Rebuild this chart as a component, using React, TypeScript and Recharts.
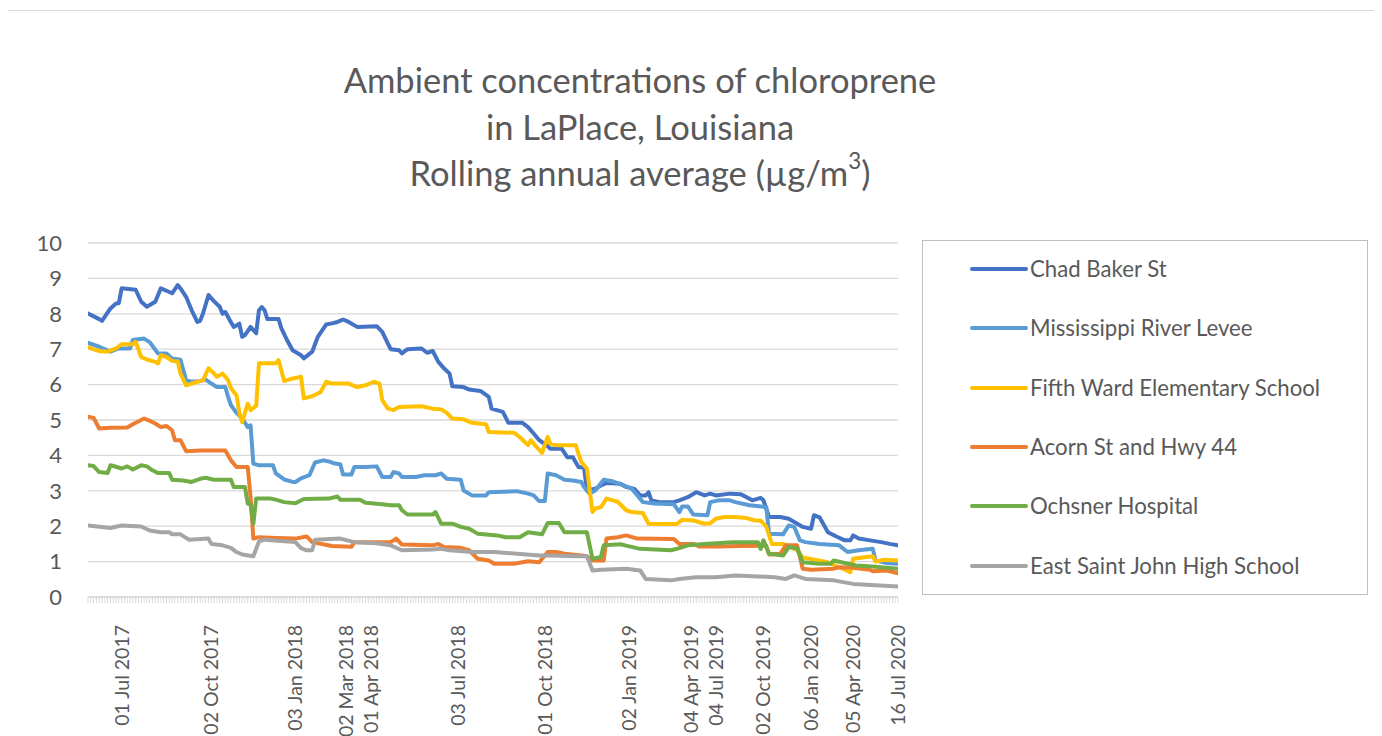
import React from 'react';
import { LineChart, Line, XAxis, YAxis, CartesianGrid, Legend } from 'recharts';

const FONT = 'Lato, "Open Sans", sans-serif';
const TEXT = '#595959';
const GRID = '#d9d9d9';

// category axis: sample number 0..289
const sampleCount = 290;

const tickLabels: [number, string][] = [
  [12, '01 Jul 2017'],
  [44, '02 Oct 2017'],
  [74, '03 Jan 2018'],
  [92, '02 Mar 2018'],
  [101, '01 Apr 2018'],
  [132, '03 Jul 2018'],
  [163, '01 Oct 2018'],
  [193, '02 Jan 2019'],
  [215, '04 Apr 2019'],
  [224, '04 Jul 2019'],
  [241, '02 Oct 2019'],
  [258, '06 Jan 2020'],
  [273, '05 Apr 2020'],
  [289, '16 Jul 2020'],
];

const yTicks = [0, 1, 2, 3, 4, 5, 6, 7, 8, 9, 10];

const seriesNames = [
  'Chad Baker St',
  'Mississippi River Levee',
  'Fifth Ward Elementary School',
  'Acorn St and Hwy 44',
  'Ochsner Hospital',
  'East Saint John High School',
];
const seriesColors = ['#4472C4', '#5B9BD5', '#FFC000', '#ED7D31', '#70AD47', '#A5A5A5'];

// [sample number, µg/m3]
const chadBaker: [number, number][] = [
  [0, 8.01], [4, 7.85], [5, 7.8], [8, 8.15], [10, 8.29], [11, 8.3], [12, 8.72], [17, 8.68], [19, 8.34], [21, 8.2],
  [24, 8.34], [26, 8.72], [28, 8.65], [30, 8.58], [32, 8.81], [33, 8.72], [35, 8.48], [37, 8.1], [39, 7.77], [40, 7.8],
  [41, 8.0], [43, 8.53], [45, 8.35], [47, 8.2], [48, 8.0], [49, 8.05], [51, 7.76], [52, 7.63], [54, 7.72], [55, 7.35],
  [56, 7.4], [58, 7.63], [60, 7.45], [61, 8.1], [62, 8.19], [63, 8.1], [64, 7.85], [68, 7.85], [69, 7.59], [71, 7.26],
  [73, 6.97], [76, 6.83], [77, 6.74], [80, 6.93], [82, 7.35], [85, 7.7], [87, 7.73], [89, 7.77], [91, 7.84], [93, 7.77],
  [96, 7.63], [103, 7.65], [105, 7.49], [107, 7.16], [108, 7.0], [111, 6.97], [112, 6.88], [114, 7.0], [119, 7.02], [121, 6.9],
  [123, 6.95], [125, 6.64], [127, 6.46], [129, 6.31], [130, 5.95], [134, 5.93], [136, 5.86], [140, 5.82], [143, 5.65], [144, 5.32],
  [148, 5.23], [150, 4.92], [155, 4.92], [157, 4.8], [159, 4.62], [161, 4.43], [164, 4.26], [165, 4.19], [169, 4.19], [171, 3.95],
  [173, 3.95], [175, 3.67], [177, 3.65], [178, 3.01], [181, 3.06], [183, 3.15], [185, 3.22], [190, 3.2], [192, 3.11], [195, 3.05],
  [197, 2.87], [199, 2.87], [200, 2.96], [201, 2.73], [204, 2.68], [209, 2.68], [211, 2.73], [214, 2.82], [217, 2.96], [220, 2.87],
  [222, 2.92], [224, 2.87], [229, 2.92], [233, 2.9], [235, 2.82], [237, 2.73], [240, 2.8], [241, 2.73], [243, 2.26], [247, 2.26],
  [250, 2.21], [252, 2.12], [255, 1.98], [258, 1.93], [259, 2.31], [261, 2.25], [264, 1.83], [267, 1.71], [270, 1.6], [272, 1.6],
  [273, 1.74], [275, 1.65], [279, 1.6], [283, 1.55], [286, 1.5], [289, 1.46],
];

const riverLevee: [number, number][] = [
  [0, 7.18], [4, 7.07], [8, 6.93], [11, 7.02], [15, 7.02], [16, 7.26], [20, 7.3], [22, 7.2], [25, 6.88], [28, 6.88],
  [30, 6.74], [33, 6.7], [35, 6.12], [37, 6.08], [40, 6.1], [42, 6.14], [44, 6.03], [46, 5.93], [49, 5.93], [50, 5.65],
  [51, 5.42], [53, 5.2], [55, 5.05], [57, 4.8], [58, 4.85], [59, 3.77], [61, 3.72], [66, 3.72], [67, 3.49], [70, 3.32],
  [73, 3.25], [74, 3.25], [76, 3.35], [79, 3.44], [81, 3.8], [84, 3.86], [86, 3.83], [88, 3.77], [90, 3.75], [91, 3.46],
  [94, 3.46], [95, 3.67], [99, 3.67], [103, 3.69], [105, 3.39], [108, 3.39], [109, 3.53], [111, 3.49], [112, 3.39], [117, 3.39],
  [120, 3.44], [124, 3.44], [126, 3.49], [128, 3.34], [133, 3.31], [134, 3.01], [137, 2.87], [142, 2.87], [143, 2.96], [153, 2.99],
  [157, 2.92], [159, 2.87], [161, 2.71], [163, 2.71], [164, 3.49], [167, 3.44], [170, 3.31], [173, 3.29], [176, 3.25], [177, 3.11],
  [179, 2.92], [181, 3.01], [184, 3.31], [187, 3.27], [191, 3.15], [194, 3.06], [198, 2.68], [202, 2.64], [209, 2.62], [211, 2.4],
  [212, 2.56], [214, 2.56], [216, 2.33], [221, 2.31], [222, 2.68], [225, 2.73], [229, 2.73], [231, 2.68], [236, 2.59], [242, 2.54],
  [243, 1.79], [248, 1.77], [250, 2.02], [252, 1.98], [254, 1.6], [256, 1.55], [261, 1.5], [268, 1.46], [271, 1.27], [275, 1.32],
  [280, 1.36], [281, 1.03], [285, 0.96], [289, 0.94],
];

const fifthWard: [number, number][] = [
  [0, 7.05], [4, 6.95], [7, 6.93], [10, 7.02], [12, 7.14], [16, 7.14], [17, 7.21], [19, 6.78], [21, 6.71], [24, 6.64],
  [25, 6.6], [26, 6.83], [28, 6.78], [30, 6.67], [32, 6.65], [33, 6.31], [35, 5.98], [37, 6.03], [39, 6.08], [41, 6.12],
  [43, 6.46], [45, 6.31], [46, 6.22], [48, 6.31], [49, 6.22], [50, 6.12], [51, 5.9], [53, 5.7], [54, 5.2], [55, 4.94],
  [57, 5.46], [58, 5.28], [60, 5.4], [61, 6.6], [67, 6.6], [68, 6.69], [70, 6.1], [72, 6.15], [76, 6.22], [77, 5.61],
  [80, 5.67], [83, 5.79], [85, 6.08], [87, 6.03], [93, 6.03], [96, 5.93], [99, 5.98], [102, 6.08], [104, 6.03], [105, 5.56],
  [107, 5.32], [109, 5.28], [111, 5.37], [119, 5.39], [123, 5.32], [126, 5.3], [128, 5.2], [130, 5.04], [134, 5.02], [137, 4.92],
  [142, 4.88], [143, 4.66], [152, 4.64], [154, 4.52], [157, 4.29], [158, 4.43], [160, 4.24], [162, 4.07], [164, 4.52], [165, 4.33],
  [167, 4.29], [174, 4.29], [176, 3.81], [178, 3.63], [180, 2.4], [181, 2.5], [183, 2.54], [185, 2.78], [189, 2.69], [192, 2.45],
  [194, 2.4], [198, 2.37], [200, 2.07], [210, 2.06], [212, 2.18], [216, 2.16], [220, 2.07], [222, 2.08], [224, 2.21], [227, 2.26],
  [231, 2.26], [235, 2.23], [238, 2.16], [240, 2.16], [242, 1.99], [244, 1.5], [248, 1.5], [250, 1.43], [253, 1.32], [255, 1.12],
  [264, 0.98], [268, 0.84], [272, 0.7], [273, 1.08], [280, 1.15], [281, 1.0], [284, 1.05], [289, 1.03],
];

const acornHwy44: [number, number][] = [
  [0, 5.09], [2, 5.06], [4, 4.76], [8, 4.78], [14, 4.79], [16, 4.88], [20, 5.04], [22, 4.98], [24, 4.9], [26, 4.8],
  [28, 4.83], [30, 4.71], [31, 4.43], [33, 4.43], [35, 4.12], [40, 4.14], [49, 4.14], [51, 3.86], [53, 3.67], [57, 3.67],
  [58, 2.82], [59, 1.65], [61, 1.69], [67, 1.67], [74, 1.65], [78, 1.71], [80, 1.55], [87, 1.44], [94, 1.42], [95, 1.55],
  [108, 1.55], [110, 1.65], [112, 1.48], [123, 1.46], [125, 1.5], [127, 1.41], [133, 1.39], [136, 1.32], [139, 1.08], [143, 1.03],
  [145, 0.94], [152, 0.94], [157, 1.01], [161, 0.98], [164, 1.27], [167, 1.27], [170, 1.22], [176, 1.17], [178, 1.15], [180, 1.03],
  [184, 1.03], [185, 1.65], [189, 1.69], [192, 1.74], [196, 1.65], [209, 1.64], [211, 1.5], [216, 1.5], [218, 1.43], [225, 1.43],
  [233, 1.44], [240, 1.45], [242, 1.45], [243, 1.2], [247, 1.22], [249, 1.46], [253, 1.46], [255, 0.8], [258, 0.77], [266, 0.8],
  [268, 0.84], [272, 0.83], [279, 0.77], [280, 0.73], [285, 0.75], [289, 0.67],
];

const ochsner: [number, number][] = [
  [0, 3.72], [2, 3.7], [4, 3.53], [7, 3.5], [8, 3.72], [10, 3.68], [12, 3.63], [14, 3.69], [16, 3.6], [19, 3.72],
  [21, 3.69], [23, 3.58], [25, 3.5], [29, 3.5], [30, 3.31], [34, 3.29], [37, 3.25], [40, 3.34], [42, 3.37], [45, 3.31],
  [51, 3.31], [52, 3.11], [56, 3.11], [57, 2.64], [58, 2.62], [59, 2.07], [60, 2.78], [65, 2.78], [67, 2.75], [70, 2.68],
  [74, 2.65], [77, 2.77], [86, 2.78], [89, 2.84], [90, 2.75], [97, 2.75], [99, 2.66], [105, 2.62], [108, 2.59], [111, 2.59],
  [112, 2.45], [114, 2.33], [123, 2.33], [124, 2.4], [126, 2.07], [130, 2.07], [133, 1.98], [136, 1.93], [139, 1.79], [146, 1.74],
  [149, 1.69], [154, 1.69], [157, 1.83], [162, 1.77], [164, 2.09], [168, 2.09], [170, 1.83], [178, 1.83], [180, 1.08], [183, 1.13],
  [184, 1.46], [190, 1.49], [192, 1.45], [197, 1.36], [208, 1.32], [211, 1.38], [214, 1.46], [220, 1.5], [230, 1.55], [239, 1.55],
  [240, 1.36], [241, 1.6], [243, 1.22], [248, 1.17], [250, 1.41], [253, 1.38], [255, 0.98], [261, 0.94], [265, 0.94], [266, 1.03],
  [270, 0.96], [274, 0.89], [280, 0.86], [289, 0.8],
];

const eastSaintJohn: [number, number][] = [
  [0, 2.02], [8, 1.95], [12, 2.02], [19, 1.99], [22, 1.88], [26, 1.83], [29, 1.83], [30, 1.77], [33, 1.77], [36, 1.62],
  [43, 1.65], [44, 1.5], [48, 1.46], [51, 1.39], [53, 1.27], [55, 1.2], [59, 1.15], [61, 1.57], [63, 1.62], [74, 1.55],
  [76, 1.38], [78, 1.32], [80, 1.32], [81, 1.62], [90, 1.65], [95, 1.55], [103, 1.52], [108, 1.46], [112, 1.32], [123, 1.34],
  [126, 1.36], [129, 1.32], [137, 1.27], [145, 1.27], [153, 1.22], [161, 1.17], [165, 1.17], [176, 1.15], [178, 1.15], [180, 0.75],
  [183, 0.77], [192, 0.8], [197, 0.75], [199, 0.51], [208, 0.47], [211, 0.51], [217, 0.56], [224, 0.56], [231, 0.61], [245, 0.56],
  [249, 0.51], [252, 0.61], [256, 0.51], [266, 0.47], [273, 0.37], [289, 0.3],
];

const seriesPoints = [chadBaker, riverLevee, fifthWard, acornHwy44, ochsner, eastSaintJohn];

const toRows = (pts: [number, number][]) => pts.map(([i, v]) => ({ i, v }));
const allTicks = Array.from({ length: sampleCount }, (_, k) => k);
const labelMap = new Map<number, string>(tickLabels);

function DateTick(props: any) {
  const { x, y, payload } = props;
  const label = labelMap.get(payload?.value);
  if (!label) return <g />;
  return (
    <text
      transform={`translate(${x},${y + 20}) rotate(-90)`}
      textAnchor="end"
      dy="0.36em"
      fill={TEXT}
      fontSize={19.5}
      fontFamily={FONT}
    >
      {label}
    </text>
  );
}

function LegendBox() {
  return (
    <div
      style={{
        width: 446,
        height: 355,
        border: '1px solid #bfbfbf',
        boxSizing: 'border-box',
        position: 'relative',
        background: '#fff',
      }}
    >
      {seriesNames.map((name, k) => (
        <div
          key={name}
          style={{
            position: 'absolute',
            left: 47,
            top: 28 + k * 59.3 - 15,
            height: 30,
            display: 'flex',
            alignItems: 'center',
            whiteSpace: 'nowrap',
          }}
        >
          <svg width={58} height={8} style={{ display: 'block' }}>
            <line x1={2} y1={4} x2={56} y2={4} stroke={seriesColors[k]} strokeWidth={4} strokeLinecap="round" />
          </svg>
          <span style={{ marginLeft: 2, fontFamily: FONT, fontSize: 22.2, color: TEXT, lineHeight: '30px' }}>{name}</span>
        </div>
      ))}
    </div>
  );
}

export default function App() {
  return (
    <div style={{ position: 'relative', width: 1374, height: 728, fontFamily: FONT, overflow: 'visible' }}>
      <style>{'body{overflow:hidden}'}</style>
      <div
        style={{
          position: 'absolute',
          left: -1,
          top: 2,
          width: 1375,
          height: 726,
          borderTop: '1px solid #d9d9d9',
          borderLeft: '1px solid #d9d9d9',
          boxSizing: 'border-box',
          pointerEvents: 'none',
        }}
      />
      <LineChart width={1374} height={728} margin={{ top: 235, right: 484, bottom: 19, left: 30 }}>
        <CartesianGrid vertical={false} stroke={GRID} strokeWidth={1.3} />
        <XAxis
          type="number"
          dataKey="i"
          domain={[0, sampleCount - 1]}
          ticks={allTicks}
          interval={0}
          allowDataOverflow
          tick={<DateTick />}
          tickSize={6}
          tickLine={{ stroke: GRID }}
          axisLine={{ stroke: GRID, strokeWidth: 1.3 }}
          height={120}
        />
        <YAxis
          type="number"
          domain={[0, 10]}
          ticks={yTicks}
          interval={0}
          width={50}
          axisLine={false}
          tickLine={false}
          tickSize={0}
          tickMargin={26}
          tick={{ fill: TEXT, fontSize: 22, fontFamily: FONT }}
        />
        <Legend
          layout="vertical"
          align="center"
          verticalAlign="middle"
          content={<LegendBox />}
          wrapperStyle={{ position: 'absolute', left: 914, top: 232, width: 446, height: 355 }}
        />
        {seriesPoints.map((pts, k) => (
          <Line
            key={seriesNames[k]}
            name={seriesNames[k]}
            data={toRows(pts)}
            dataKey="v"
            type="linear"
            stroke={seriesColors[k]}
            strokeWidth={4}
            strokeLinejoin="round"
            strokeLinecap="round"
            dot={false}
            activeDot={false}
            isAnimationActive={false}
          />
        ))}
      </LineChart>
      <div
        style={{
          position: 'absolute',
          left: 0,
          top: 49,
          width: 1264,
          textAlign: 'center',
          fontFamily: FONT,
          fontSize: 34.5,
          lineHeight: '46.5px',
          color: TEXT,
        }}
      >
        <div>Ambient concentrations of chloroprene</div>
        <div>in LaPlace, Louisiana</div>
        <div>
          Rolling annual average (µg/m
          <sup style={{ fontSize: '0.65em', lineHeight: 0, verticalAlign: '0.75em' }}>3</sup>)
        </div>
      </div>
    </div>
  );
}
